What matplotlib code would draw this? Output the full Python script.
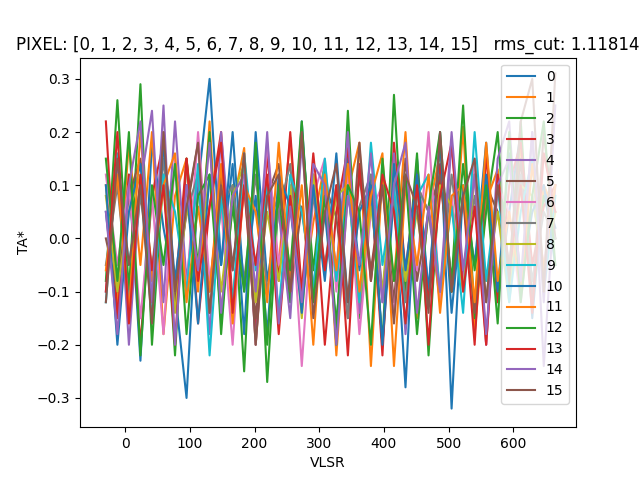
import numpy as np
import matplotlib
matplotlib.use('Agg')
import matplotlib.pyplot as plt

# channel axis of the spectra
vlsr_start, vlsr_end, n_chan = -30.0, 665.0, 40
pixels = list(range(16))

ta = [
 [0.05,-0.15,0.12,-0.23,0.18,0.02,-0.1,-0.3,0.1,0.3,-0.05,0.14,-0.18,0.2,-0.08,0.06,-0.12,0.22,-0.1,0.05,-0.17,0.16,-0.06,0.12,-0.2,0.08,-0.28,0.15,-0.1,0.2,-0.32,0.1,-0.05,0.18,-0.12,0.05,0.2,-0.15,0.1,0.02],
 [0.1,-0.12,0.18,-0.05,0.2,-0.18,0.08,0.15,-0.1,0.22,-0.14,0.06,0.17,-0.2,0.1,-0.05,0.19,-0.12,0.03,0.14,-0.22,0.09,0.18,-0.24,0.12,-0.08,0.2,-0.15,0.05,0.16,-0.1,0.21,-0.18,0.07,0.13,-0.06,0.18,-0.12,0.1,0.05],
 [-0.08,0.26,-0.1,0.29,-0.2,0.12,-0.22,0.15,-0.05,0.2,-0.18,0.1,-0.25,0.18,-0.27,0.08,-0.12,0.2,-0.06,0.14,-0.2,0.24,-0.15,0.1,-0.2,0.27,-0.1,0.16,-0.22,0.12,-0.08,0.25,-0.15,0.05,0.2,-0.1,0.22,-0.12,0.08,0.0],
 [0.22,-0.15,0.12,-0.2,0.08,0.18,-0.1,0.15,-0.16,0.06,0.2,-0.12,0.1,-0.18,0.16,-0.08,0.2,-0.1,0.12,-0.2,0.05,0.17,-0.14,0.1,-0.22,0.18,-0.06,0.12,-0.2,0.14,-0.1,0.08,-0.2,0.16,-0.12,0.1,0.18,-0.05,0.06,0.1],
 [-0.1,0.15,-0.2,0.1,0.24,-0.12,0.22,-0.08,0.12,-0.18,0.2,-0.06,0.15,-0.2,0.1,0.05,-0.15,0.18,-0.1,0.12,-0.06,0.2,-0.14,0.08,-0.12,0.16,-0.18,0.1,0.05,-0.12,0.18,-0.08,0.12,-0.2,0.15,0.22,-0.1,0.2,-0.24,0.1],
 [0.0,-0.1,0.08,0.15,-0.06,0.1,-0.12,0.05,0.18,-0.1,0.12,-0.05,0.1,-0.15,0.08,0.14,-0.1,0.06,-0.12,0.1,0.04,-0.15,0.12,-0.06,0.1,-0.12,0.15,-0.08,0.05,0.12,-0.1,0.08,-0.14,0.1,0.05,-0.08,0.15,-0.12,0.2,0.0],
 [0.12,-0.05,0.1,-0.15,0.08,-0.18,0.15,-0.1,0.2,-0.08,0.06,-0.2,0.12,-0.12,0.18,-0.05,0.1,-0.24,0.08,0.15,-0.1,0.12,-0.18,0.05,0.1,-0.15,0.12,-0.06,0.2,-0.12,0.08,-0.1,0.15,-0.2,0.1,0.05,-0.12,0.08,-0.05,0.1],
 [-0.05,0.1,-0.12,0.08,-0.06,0.15,-0.1,0.05,0.12,-0.14,0.06,0.1,-0.08,0.12,-0.1,0.05,0.14,-0.12,0.08,-0.05,0.1,-0.15,0.06,0.12,-0.1,0.08,-0.12,0.1,0.05,-0.1,0.12,-0.06,0.08,-0.12,0.1,-0.05,0.12,-0.08,0.05,0.0],
 [0.08,-0.1,0.05,0.12,-0.08,0.1,-0.14,0.06,-0.05,0.12,-0.1,0.08,0.14,-0.12,0.05,-0.08,0.1,-0.15,0.12,-0.06,0.08,0.1,-0.12,0.06,-0.1,0.14,-0.08,0.05,-0.12,0.1,0.06,-0.1,0.12,-0.08,0.05,-0.12,0.1,0.08,-0.06,0.05],
 [-0.12,0.16,-0.05,0.1,-0.15,0.12,0.05,-0.1,0.14,-0.22,0.08,-0.12,0.16,-0.06,0.1,-0.14,0.12,0.05,-0.1,0.15,-0.08,0.1,-0.12,0.18,-0.05,0.1,-0.16,0.08,0.12,-0.1,0.06,-0.14,0.2,-0.08,0.1,-0.12,0.05,0.15,-0.1,0.08],
 [0.1,-0.2,0.05,0.14,-0.12,0.18,-0.08,0.1,-0.16,0.12,-0.05,0.2,-0.1,0.08,-0.18,0.12,0.06,-0.14,0.1,-0.08,0.16,-0.12,0.05,0.1,-0.2,0.14,-0.06,0.12,-0.1,0.18,-0.14,0.08,-0.05,0.12,-0.1,0.16,-0.08,0.05,0.1,-0.05],
 [-0.06,0.12,-0.14,0.2,-0.08,0.1,0.16,-0.12,0.06,-0.1,0.14,-0.16,0.1,0.05,-0.12,0.18,-0.08,0.1,-0.2,0.12,-0.06,0.14,-0.1,0.08,0.16,-0.24,0.1,-0.05,0.12,-0.14,0.08,0.1,-0.12,0.18,-0.08,0.05,-0.1,0.14,-0.06,0.1],
 [0.15,-0.08,0.2,-0.22,0.1,-0.05,0.14,-0.18,0.08,0.12,-0.15,0.06,-0.1,0.16,-0.2,0.1,-0.06,0.22,-0.12,0.08,-0.16,0.1,0.05,-0.2,0.15,-0.08,0.12,-0.18,0.06,0.2,-0.1,0.14,-0.06,0.1,-0.16,0.2,-0.12,0.08,0.22,-0.05],
 [-0.1,0.2,-0.16,0.12,-0.06,0.1,-0.2,0.15,-0.08,0.06,0.18,-0.14,0.1,-0.05,0.12,-0.18,0.08,-0.1,0.16,-0.06,0.1,-0.22,0.14,-0.08,0.12,0.05,-0.16,0.1,-0.12,0.08,0.18,-0.1,0.06,-0.2,0.12,-0.06,0.1,-0.14,0.16,0.05],
 [0.05,-0.18,0.1,0.22,-0.12,0.25,-0.2,0.1,-0.06,0.18,-0.14,0.08,0.12,-0.1,0.2,-0.16,0.06,-0.12,0.14,0.1,-0.2,0.08,-0.05,0.16,-0.12,0.1,0.18,-0.14,0.06,-0.1,0.2,-0.06,0.12,-0.18,0.1,0.15,-0.08,0.2,-0.12,0.25],
 [-0.12,0.15,-0.05,0.1,-0.16,0.2,-0.1,0.06,0.18,-0.14,0.1,-0.06,0.16,-0.2,0.08,0.12,-0.1,0.2,-0.15,0.05,0.14,-0.12,0.18,-0.08,0.1,-0.16,0.12,0.06,-0.14,0.2,-0.1,0.08,0.15,-0.12,0.1,-0.06,0.22,0.3,-0.1,0.31],
]

vlsr = np.linspace(vlsr_start, vlsr_end, n_chan)

plt.figure(figsize=(6.4, 4.8), dpi=100)
for i in pixels:
    plt.plot(vlsr, ta[i], label=str(i))
plt.title('PIXEL: %s   rms_cut: 1.11814' % str(pixels))
plt.xlabel('VLSR')
plt.ylabel('TA*')
plt.xlim(-70, 697)
plt.ylim(-0.355, 0.34)
plt.legend(loc='upper right')
plt.savefig('out.png')
